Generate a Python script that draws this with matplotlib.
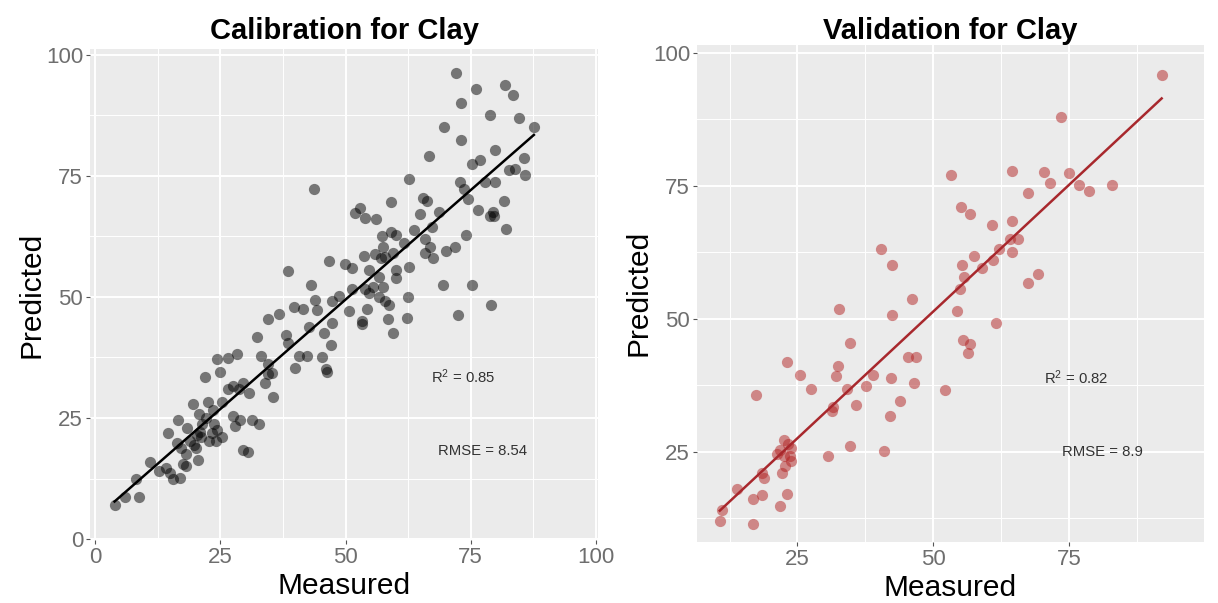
import matplotlib.pyplot as plt
import numpy as np

plt.rcParams['font.family'] = ['Liberation Sans', 'DejaVu Sans']
plt.rcParams['mathtext.default'] = 'regular'

# calibration set (measured, predicted)
cal_measured = [72.1, 76.0, 81.8, 83.5, 73.1, 78.9, 84.7, 69.6, 87.6, 73.1,
                79.9, 66.7, 75.2, 76.9, 85.7, 82.7, 83.8, 85.8, 62.6, 79.9,
                72.8, 77.9, 43.7, 73.7, 74.5, 65.4, 66.3, 59.1, 81.6, 76.4,
                78.9, 79.5, 79.6, 68.6, 64.8, 51.8, 52.8, 53.8, 56.0, 82.1,
                63.6, 67.3, 74.1, 71.9, 70.0, 57.3, 59.0, 60.0, 61.7, 65.9,
                66.9, 67.5, 65.9, 57.4, 57.8, 57.0, 59.5, 55.9, 53.7, 46.8,
                38.5, 49.8, 51.2, 54.7, 60.0, 62.6, 60.1, 56.7, 69.4, 75.2,
                43.1, 51.2, 53.9, 55.5, 57.4, 54.7, 56.7, 57.8, 48.8, 47.4,
                44.0, 39.8, 41.6, 58.6, 79.1, 62.5, 44.3, 50.6, 54.2, 36.8,
                34.6, 72.5, 62.3, 58.4, 53.2, 53.3, 47.4, 42.7, 59.4, 45.8,
                32.3, 38.1, 38.5, 47.1, 33.1, 40.8, 42.3, 45.3, 39.9, 46.2,
                46.4, 34.6, 34.6, 35.4, 34.0, 35.6, 24.4, 26.6, 28.4, 24.9,
                22.0, 29.6, 27.6, 26.5, 30.7, 28.8, 19.5, 22.6, 23.6, 25.3,
                20.7, 22.2, 27.5, 29.0, 31.4, 32.7, 28.0, 23.8, 24.3, 21.4,
                21.0, 18.3, 16.5, 14.6, 20.3, 21.1, 23.4, 25.3, 22.8, 24.2,
                18.9, 19.7, 16.4, 17.2, 20.1, 18.2, 29.6, 30.6, 20.5, 17.6,
                18.2, 11.0, 14.2, 14.9, 17.0, 15.6, 8.1, 12.8, 8.8, 3.9, 6.0]
cal_predicted = [96.2, 93.0, 93.8, 91.8, 90.1, 87.5, 86.9, 85.1, 85.1, 82.5,
                 80.3, 79.1, 77.5, 78.3, 78.6, 76.2, 76.4, 75.2, 74.4, 73.8,
                 73.8, 73.8, 72.2, 72.2, 70.2, 70.5, 69.8, 69.6, 69.8, 67.9,
                 66.8, 67.5, 66.7, 67.6, 67.2, 67.3, 68.3, 66.3, 66.0, 64.1,
                 63.9, 64.4, 62.7, 60.3, 59.5, 62.5, 63.5, 62.7, 61.1, 61.9,
                 60.3, 58.1, 59.1, 60.3, 58.3, 58.1, 59.1, 58.9, 58.5, 57.5,
                 55.3, 56.9, 55.9, 55.6, 55.6, 56.1, 54.0, 54.1, 52.4, 52.5,
                 52.4, 51.7, 51.7, 52.0, 52.0, 50.8, 50.0, 49.2, 50.2, 49.2,
                 49.4, 48.0, 47.6, 48.4, 48.4, 50.0, 47.2, 47.0, 47.6, 46.4,
                 45.4, 46.2, 45.6, 45.4, 45.1, 44.4, 44.6, 43.8, 42.6, 42.5,
                 41.8, 42.1, 40.5, 40.1, 37.9, 37.9, 37.7, 37.5, 35.3, 35.1,
                 34.5, 36.1, 34.1, 34.3, 32.3, 29.4, 37.1, 37.3, 38.2, 34.5,
                 33.5, 32.3, 31.7, 31.0, 30.2, 31.0, 27.9, 28.2, 26.6, 28.2,
                 25.8, 25.0, 25.4, 24.6, 24.6, 23.8, 23.4, 23.8, 22.6, 23.8,
                 22.2, 23.0, 24.6, 21.8, 21.4, 21.0, 21.8, 21.0, 20.2, 20.2,
                 20.2, 19.4, 19.8, 18.7, 18.7, 17.6, 18.4, 17.9, 16.3, 15.5,
                 15.1, 15.9, 14.7, 13.7, 12.7, 12.3, 12.3, 14.1, 8.7, 7.1, 8.7]

# validation set (measured, predicted)
val_measured = [92.1, 73.6, 53.2, 64.6, 70.4, 71.6, 75.0, 76.8, 78.8, 82.9,
                67.4, 55.2, 56.8, 60.9, 64.5, 40.4, 42.5, 62.1, 64.6, 65.7,
                64.1, 57.5, 55.4, 59.0, 61.1, 67.4, 69.4, 55.7, 55.0, 46.1,
                32.7, 54.4, 42.5, 61.6, 34.6, 55.5, 56.8, 56.4, 45.4, 46.8,
                23.0, 32.4, 32.1, 25.4, 38.9, 42.3, 46.4, 37.7, 27.5, 34.1,
                52.1, 17.4, 43.9, 35.7, 31.6, 31.4, 42.1, 34.6, 40.9, 30.7,
                22.5, 23.2, 23.9, 21.8, 21.2, 22.5, 23.6, 23.9, 22.7, 22.1,
                18.9, 18.4, 13.9, 16.8, 18.4, 23.0, 21.8, 11.1, 10.7, 16.8]
val_predicted = [95.8, 88.0, 77.0, 77.9, 77.6, 75.6, 77.4, 75.2, 74.1, 75.2,
                 73.7, 71.1, 69.7, 67.7, 68.4, 63.2, 60.2, 63.1, 62.6, 65.0,
                 65.0, 61.9, 60.2, 59.5, 61.1, 56.8, 58.4, 57.8, 55.7, 53.8,
                 51.8, 51.5, 50.7, 49.2, 45.4, 46.0, 45.3, 43.6, 42.9, 42.9,
                 41.8, 41.1, 39.2, 39.5, 39.5, 38.9, 37.9, 37.4, 36.8, 36.8,
                 36.7, 35.7, 34.5, 33.8, 33.4, 32.7, 31.7, 26.1, 25.1, 24.3,
                 27.2, 26.5, 25.7, 25.4, 24.6, 24.3, 24.3, 23.2, 22.4, 21.0,
                 20.0, 21.0, 18.1, 16.2, 16.8, 17.1, 14.8, 14.1, 12.0, 11.4]

ticks = [0, 25, 50, 75, 100]
minor = [12.5, 37.5, 62.5, 87.5]

panels = [
    dict(title="Calibration for Clay", x=cal_measured, y=cal_predicted,
         pt_color="black", line_color="black", r2="0.85", rmse="8.54",
         r2_pos=(73.5, 33.6), rmse_pos=(77.3, 18.1),
         rect=[90/1218, 1-540/603, 508/1218, 491/603],
         xlim=(-1, 100.4), ylim=(-0.2, 101.2), title_pad=7),
    dict(title="Validation for Clay", x=val_measured, y=val_predicted,
         pt_color="#b22222", line_color="#a8282d", r2="0.82", rmse="8.9",
         r2_pos=(76.3, 38.9), rmse_pos=(81.2, 25.0),
         rect=[697/1218, 1-541.7/603, 507/1218, 496.7/603],
         xlim=(6.5, 99.9), ylim=(8.1, 101.5), title_pad=2),
]

fig = plt.figure(figsize=(12.18, 6.03), dpi=100)
for p in panels:
    ax = fig.add_axes(p["rect"])
    ax.set_facecolor("#ebebeb")
    for s in ax.spines.values():
        s.set_visible(False)
    ax.set_xticks(ticks)
    ax.set_yticks(ticks)
    ax.set_xticks(minor, minor=True)
    ax.set_yticks(minor, minor=True)
    ax.grid(True, which="major", color="white", lw=1.4)
    ax.grid(True, which="minor", color="white", lw=0.7)
    ax.set_axisbelow(True)
    ax.tick_params(which="major", length=3, color="#555555", labelsize=16,
                   labelcolor="#6e6e6e", pad=2)
    ax.tick_params(which="minor", length=0)

    x = np.array(p["x"])
    y = np.array(p["y"])
    ax.scatter(x, y, s=65, color=p["pt_color"], alpha=0.5, lw=0, zorder=3)
    k, b = np.polyfit(x, y, 1)
    xs = np.array([x.min(), x.max()])
    ax.plot(xs, k*xs + b, color=p["line_color"], lw=1.8, zorder=4)

    ax.text(*p["r2_pos"], r"R$^{2}$ = " + p["r2"], fontsize=10.7, color="#333333",
            ha="center", va="center")
    ax.text(*p["rmse_pos"], "RMSE = " + p["rmse"], fontsize=10.7, color="#333333",
            ha="center", va="center")

    ax.set_xlim(*p["xlim"])
    ax.set_ylim(*p["ylim"])
    ax.set_title(p["title"], fontsize=21, fontweight="bold", pad=p["title_pad"])
    ax.set_xlabel("Measured", fontsize=21.5, labelpad=3)
    ax.set_ylabel("Predicted", fontsize=21.5, labelpad=0)

fig.savefig("out.png", dpi=100)
